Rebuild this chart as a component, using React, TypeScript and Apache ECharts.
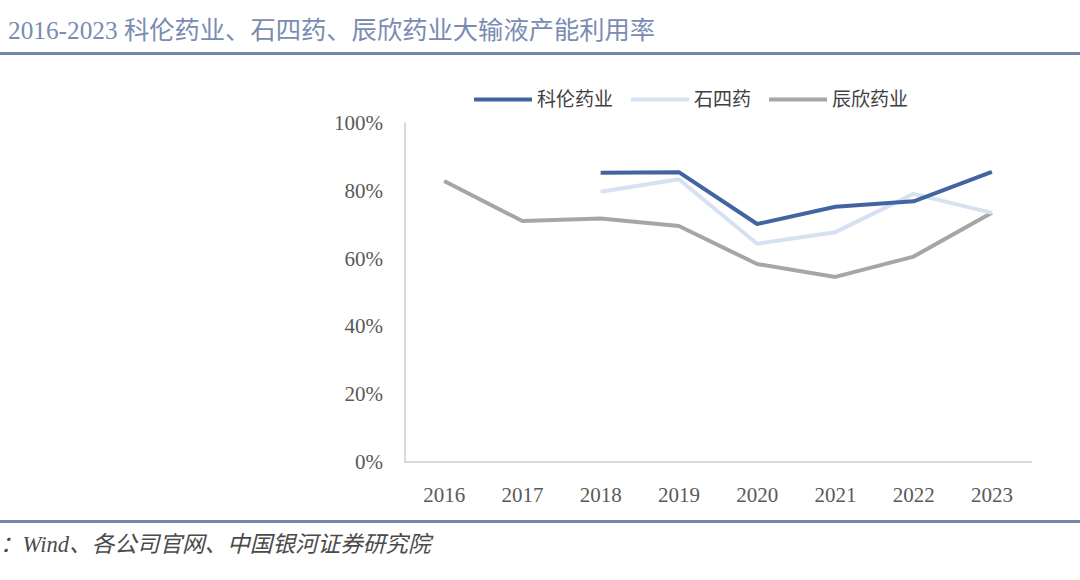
import React, { useEffect, useRef } from "react";
import * as echarts from "echarts";

const years = ["2016", "2017", "2018", "2019", "2020", "2021", "2022", "2023"];
const kelun = [null, null, 85.3, 85.5, 70.2, 75.3, 76.9, 85.6];
const shisiyao = [null, null, 79.7, 83.4, 64.4, 67.8, 79.1, 73.5];
const chenxin = [82.9, 71.1, 71.8, 69.6, 58.4, 54.6, 60.6, 73.5];
const seriesNames = ["科伦药业", "石四药", "辰欣药业"];
const seriesColors = ["#4265a2", "#d6e1f2", "#a6a6a6"];
const titleText = "2016-2023 科伦药业、石四药、辰欣药业大输液产能利用率";
const sourceText = "：Wind、各公司官网、中国银河证券研究院";

const FONT = "'Liberation Serif', 'Noto Sans CJK SC', serif";

export default function App() {
  const ref = useRef<HTMLDivElement>(null);
  useEffect(() => {
    const chart = echarts.init(ref.current!, null, { renderer: "svg" });
    const data = [kelun, shisiyao, chenxin];
    chart.setOption({
      animation: false,
      backgroundColor: "#ffffff",
      textStyle: { fontFamily: FONT },
      grid: { left: 405, right: 49, top: 123, bottom: 118, containLabel: false },
      legend: {
        top: 85,
        left: 469,
        itemWidth: 58,
        itemHeight: 4,
        itemGap: 18,
        icon: "rect",
        textStyle: { fontSize: 19, color: "#404040", fontFamily: FONT, padding: [0, 0, 0, 0] },
        data: seriesNames,
      },
      xAxis: {
        type: "category",
        data: years,
        boundaryGap: true,
        axisLine: { lineStyle: { color: "#d9d9d9", width: 2 } },
        axisTick: { show: false },
        axisLabel: { color: "#595959", fontSize: 21, margin: 22, fontFamily: FONT },
      },
      yAxis: {
        type: "value",
        min: 0,
        max: 100,
        interval: 20,
        axisLine: { show: true, lineStyle: { color: "#d9d9d9", width: 2 } },
        axisTick: { show: false },
        splitLine: { show: false },
        axisLabel: { color: "#595959", fontSize: 21, margin: 22, formatter: "{value}%", fontFamily: FONT },
      },
      series: seriesNames.map((n, i) => ({
        name: n,
        type: "line",
        data: data[i],
        symbol: "none",
        color: seriesColors[i],
        lineStyle: { width: 4, color: seriesColors[i] },
        z: 3 - i,
      })),
      graphic: [
        {
          type: "text",
          left: 8,
          top: 17,
          style: { text: titleText, fontSize: 25.3, fill: "#7a8cb1", fontFamily: FONT },
        },
        {
          type: "rect",
          shape: { x: 0, y: 52, width: 1080, height: 3 },
          style: { fill: "#7186a9" },
        },
        {
          type: "rect",
          shape: { x: 0, y: 520, width: 1080, height: 3 },
          style: { fill: "#7186a9" },
        },
        {
          type: "text",
          x: 0,
          y: 533,
          style: { text: sourceText, fontSize: 22.6, fill: "#4a4a4a", fontFamily: FONT, fontStyle: "italic" },
        },
      ],
    });
    return () => chart.dispose();
  }, []);
  return <div ref={ref} style={{ position: "fixed", left: 0, top: 0, width: 1080, height: 580 }} />;
}
